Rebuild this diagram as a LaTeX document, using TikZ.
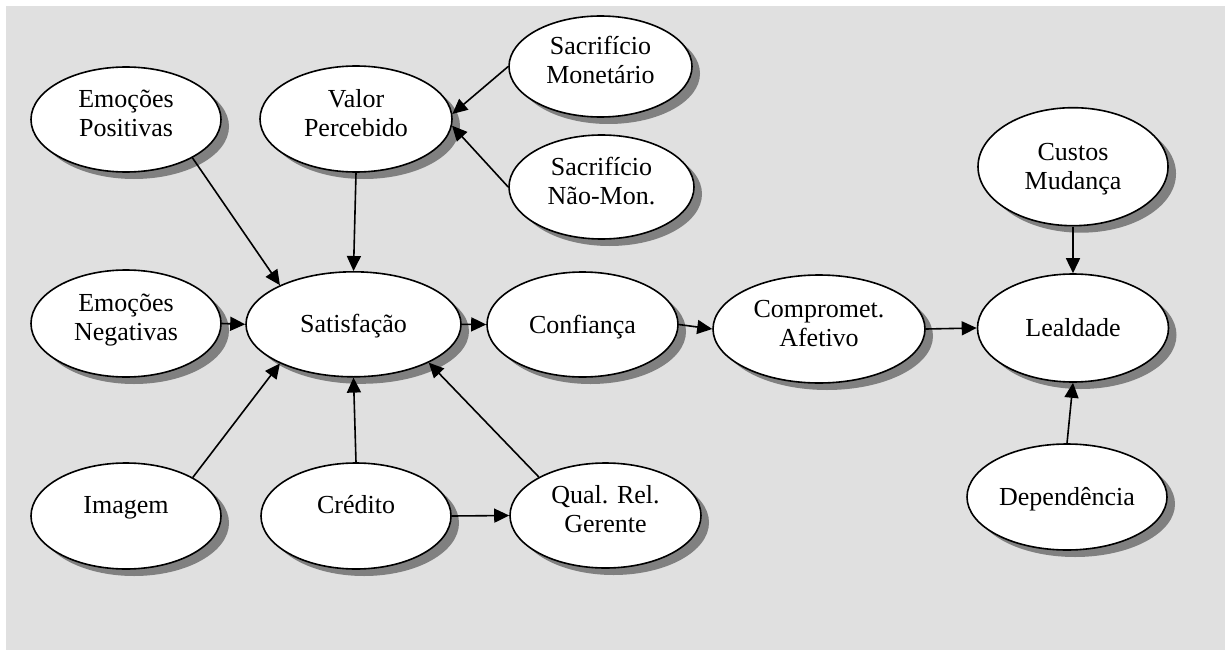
\documentclass[tikz,border=0pt]{standalone}
\usepackage{fontspec}
\setmainfont{Liberation Serif}
\usetikzlibrary{shapes.geometric,shadows,arrows.meta}
\definecolor{panel}{RGB}{224,224,224}
\definecolor{shade}{RGB}{128,128,128}
% two centred lines whose baseline is the first line
\newcommand{\twoline}[2]{\begin{tabular}[t]{@{}c@{}}#1\\#2\end{tabular}}
\tikzset{
  oval/.style={ellipse, draw=black, line width=1.6pt, fill=white, inner sep=0pt,
    font=\fontsize{26}{29}\selectfont, text height=20pt,
    drop shadow={shadow xshift=8pt, shadow yshift=-7pt, fill=shade, opacity=1}},
  two/.style={oval, text depth=44pt},
  one/.style={oval, text depth=3pt},
  onetop/.style={oval, text depth=25pt},
  link/.style={line width=1.6pt, -{Triangle[length=15pt,width=14pt]}}
}
\begin{document}
\begin{tikzpicture}[x=1pt, y=-1pt]
\useasboundingbox (0,0) rectangle (1225,650);
\fill[panel] (6,6) rectangle (1225,650);

% antecedents of value
\node[two, minimum width=183pt, minimum height=101pt] (sm) at (600.5,66.5) {\twoline{Sacrifício}{Monetário}};
\node[two, minimum width=185pt, minimum height=104pt] (nm) at (601.5,187) {\twoline{Sacrifício}{Não-Mon.}};
\node[two, minimum width=192pt, minimum height=106pt] (vp) at (356,119) {\twoline{Valor}{Percebido}};
\node[two, minimum width=190pt, minimum height=105pt] (ep) at (126,119.5) {\twoline{Emoções}{Positivas}};

% main chain
\node[two, minimum width=190pt, minimum height=107pt] (en) at (126,323.5) {\twoline{Emoções}{Negativas}};
\node[one, minimum width=215pt, minimum height=105pt] (sat) at (353.5,324.3) {Satisfação};
\node[one, minimum width=191pt, minimum height=105pt] (conf) at (582.5,324.5) {Confiança};
\node[two, minimum width=212pt, minimum height=108pt] (comp) at (819,329) {\twoline{Compromet.}{Afetivo}};
\node[one, minimum width=191pt, minimum height=108pt] (leal) at (1073,328) {Lealdade};
\node[oval, text depth=33pt, minimum width=190pt, minimum height=118pt] (cust) at (1073,166.7) {\twoline{Custos}{Mudança}};
\node[one, minimum width=200pt, minimum height=106pt] (dep) at (1067,497) {Dependência};

% lower row
\node[onetop, minimum width=190pt, minimum height=106pt] (img) at (126,516) {Imagem};
\node[onetop, minimum width=190pt, minimum height=106pt] (cred) at (356,516) {Crédito};
\node[two, minimum width=191pt, minimum height=105pt] (qrg) at (605.5,515.5) {\twoline{Qual. Rel.}{Gerente}};

% paths
\draw[link] (sm.west) -- (vp.3);
\draw[link] (nm.west) -- (vp.-4);
\draw[link] (vp.south) -- (sat.north);
\draw[link] (ep.-30) -- (sat.152);
\draw[link] (en.east) -- (sat.west);
\draw[link] (img.30) -- (sat.-152);
\draw[link] (cred.north) -- (sat.south);
\draw[link] (qrg.150.6) -- (sat.-27.5);
\draw[link] (cred.east) -- (qrg.west);
\draw[link] (sat.east) -- (conf.west);
\draw[link] (conf.east) -- (comp.west);
\draw[link] (comp.east) -- (leal.west);
\draw[link] (cust.south) -- (leal.north);
\draw[link] (dep.north) -- (leal.south);
\end{tikzpicture}
\end{document}
